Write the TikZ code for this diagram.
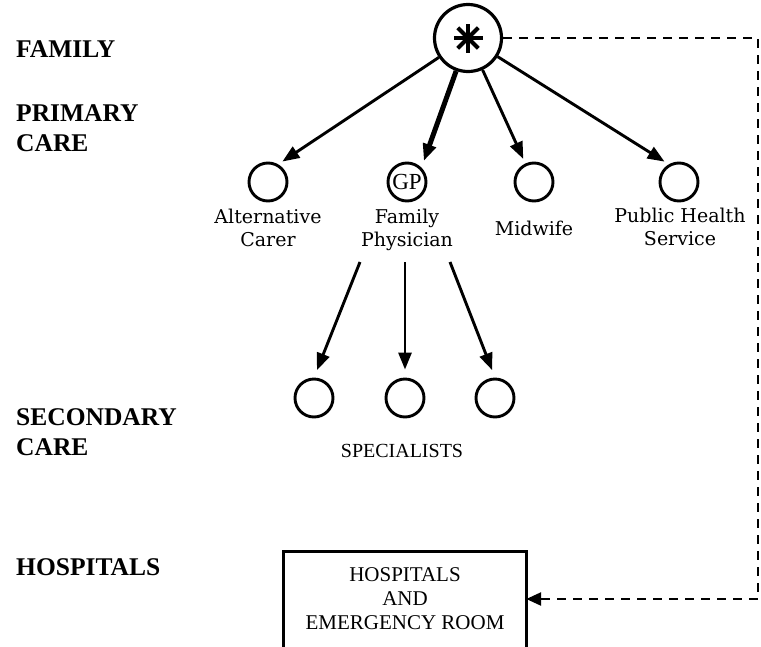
\documentclass[tikz,border=0pt]{standalone}
\usepackage{fontspec}
\setmainfont{Liberation Serif}
\newfontfamily\whofont{DejaVu Serif}
\usetikzlibrary{arrows.meta}

\begin{document}
\begin{tikzpicture}[x=1pt,y=-1pt,
        level/.style={font=\bfseries\fontsize{25.5}{30}\selectfont, anchor=base west, inner sep=0pt, align=left},
        care/.style={draw, circle, line width=2.9pt, minimum size=38pt, inner sep=0pt},
        who/.style={font=\whofont\fontsize{19}{23}\selectfont, anchor=north, inner sep=0pt, align=center},
        arr/.style={line width=2.9pt, -{Triangle[length=17pt,width=13pt]}, shorten >=5pt}]
        % Set picture size
        \useasboundingbox (0,0) rectangle (761,646);
        \clip (0,0) rectangle (761,646);

        % Levels on the left
        \node[level] (famlbl) at (16,57) {FAMILY};
        \node[level] (pclbl) at (16,151) {PRIMARY\\CARE};
        \node[level] (sclbl) at (16,455) {SECONDARY\\CARE};
        \node[level] (hslbl) at (16,575) {HOSPITALS};

        % Family
        \node[circle, draw, line width=3.2pt, minimum size=67pt, inner sep=0pt] (fam) at (468,38) {};
        \foreach \a in {0,45,...,315}
            \draw[line width=4pt] (fam.center) -- ++(\a:14.5);

        % Primary care
        \node[care] (alt) at (268,182) {};
        \node[care, font=\fontsize{23}{23}\selectfont] (gp) at (407,182) {GP};
        \node[care] (mid) at (534,182) {};
        \node[care] (phs) at (679,182) {};
        \node[who] (altlbl) at (268,209) {Alternative\\Carer};
        \node[who] (gplbl) at (407,209) {Family\\Physician};
        \node[who] (midlbl) at (534,221) {Midwife};
        \node[who] (phslbl) at (680,208) {Public Health\\Service};

        \draw[arr] (fam) -- (alt.60);
        \draw[arr, line width=5pt, shorten >=7pt] (fam) -- (gp.45);
        \draw[arr] (fam) -- (mid.115);
        \draw[arr] (fam) -- (phs.120);

        % Secondary care
        \node[care] (sp1) at (314,398) {};
        \node[care] (sp2) at (405,398) {};
        \node[care] (sp3) at (495,398) {};
        \node[font=\fontsize{20}{20}\selectfont, anchor=base, inner sep=0pt] (splbl) at (402,457) {SPECIALISTS};
        \coordinate (d1) at (360,262);
        \coordinate (d2) at (405,262);
        \coordinate (d3) at (450,262);
        \draw[arr, shorten >=8pt] (d1) -- (sp1.north);
        \draw[arr, shorten >=8pt] (d2) -- (sp2.north);
        \draw[arr, shorten >=8pt] (d3) -- (sp3.north);

        % Hospitals, the bottom edge runs off the page
        \node[minimum width=242pt, minimum height=94pt, inner sep=0pt,
              font=\fontsize{21}{24}\selectfont, align=center] (hosp) at (405,599) {HOSPITALS\\AND\\EMERGENCY ROOM};
        \draw[line width=2.9pt] ([yshift=-10pt]hosp.south west) -- (hosp.north west)
            -- (hosp.north east) -- ([yshift=-10pt]hosp.south east);
        \coordinate (corner) at (758,38);
        \draw[line width=2.5pt, dash pattern=on 9pt off 7pt, -{Triangle[length=15pt,width=13pt]}]
            (fam.east) -- (corner) |- (hosp.east);

\end{tikzpicture}
\end{document}
